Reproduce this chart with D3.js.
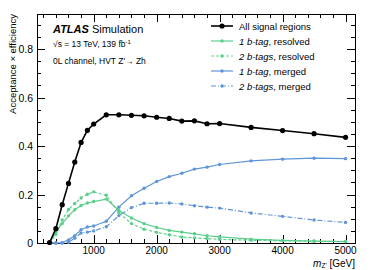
<!DOCTYPE html>
<html>
<head>
<meta charset="utf-8">
<script src="https://cdn.jsdelivr.net/npm/d3@7"></script>
<style>
body { margin: 0; background: #fff; }
svg text { font-family: "Liberation Sans", Arial, sans-serif; fill: #000; }
path.line { fill: none; }
</style>
</head>
<body>
<div id="chart"></div>
<script>
// Z' mass points [GeV]
var mass = [300, 400, 500, 600, 700, 800, 900, 1000, 1200, 1400, 1600, 1800, 2000, 2200, 2400, 2600, 2800, 3000, 3500, 4000, 4500, 5000];

var allSR = [0.002, 0.059, 0.158, 0.246, 0.334, 0.415, 0.465, 0.491, 0.529, 0.529, 0.527, 0.525, 0.519, 0.514, 0.503, 0.504, 0.492, 0.493, 0.477, 0.464, 0.451, 0.436];
var res1b = [0.0, 0.045, 0.08, 0.112, 0.137, 0.155, 0.165, 0.171, 0.181, 0.134, 0.103, 0.08, 0.064, 0.052, 0.045, 0.038, 0.030, 0.025, 0.016, 0.011, 0.008, 0.006];
var res2b = [0.0, 0.035, 0.095, 0.138, 0.163, 0.186, 0.201, 0.211, 0.197, 0.125, 0.08, 0.057, 0.044, 0.034, 0.025, 0.021, 0.018, 0.015, 0.011, 0.009, 0.007, 0.006];
var mer1b = [0.0, 0.0, 0.001, 0.013, 0.03, 0.055, 0.066, 0.07, 0.09, 0.148, 0.195, 0.226, 0.254, 0.274, 0.288, 0.305, 0.313, 0.324, 0.339, 0.346, 0.35, 0.348];
var mer2b = [0.0, 0.0, 0.0, 0.003, 0.02, 0.041, 0.045, 0.05, 0.067, 0.113, 0.146, 0.164, 0.164, 0.165, 0.161, 0.154, 0.148, 0.144, 0.124, 0.11, 0.095, 0.085];

var xTicks = [1000, 2000, 3000, 4000, 5000];
var yTicks = [0, 0.2, 0.4, 0.6, 0.8];

var W = 374, H = 270;
var margin = {top: 14, right: 19, bottom: 27, left: 37};
var width = W - margin.left - margin.right,
    height = H - margin.top - margin.bottom;

var green = "#5ccf8c", blue = "#5e95d8";

var series = [
  {name: "all", values: allSR, color: "#000", width: 1.6, dash: null, r: 2.6},
  {name: "r1", values: res1b, color: green, width: 1.2, dash: null, r: 1.7},
  {name: "r2", values: res2b, color: green, width: 1.2, dash: "3,2", r: 1.7},
  {name: "m1", values: mer1b, color: blue, width: 1.2, dash: null, r: 1.7},
  {name: "m2", values: mer2b, color: blue, width: 1.2, dash: "5,2,1,2", r: 1.7}
];

var svg = d3.select("#chart").append("svg")
  .attr("width", W).attr("height", H);
var g = svg.append("g")
  .attr("transform", "translate(" + margin.left + "," + margin.top + ")");

var x = d3.scaleLinear().domain([100, 5150]).range([0, width]);
var y = d3.scaleLinear().domain([0, 0.945]).range([height, 0]);

// minor ticks
var xMinor = d3.range(200, 5150, 200);
var yMinor = d3.range(0, 0.945, 0.05);

function ticks(sel, vals, fn, len) {
  vals.forEach(function(v) { fn(sel, v, len); });
}

var tg = g.append("g").attr("stroke", "#000").attr("stroke-width", 1);
function xt(sel, v, len) {
  var px = Math.round(x(v)) + 0.5;
  sel.append("line").attr("x1", px).attr("x2", px).attr("y1", height).attr("y2", height - len);
  sel.append("line").attr("x1", px).attr("x2", px).attr("y1", 0).attr("y2", len);
}
function yt(sel, v, len) {
  var py = Math.round(y(v)) + 0.5;
  sel.append("line").attr("y1", py).attr("y2", py).attr("x1", 0).attr("x2", len);
  sel.append("line").attr("y1", py).attr("y2", py).attr("x1", width).attr("x2", width - len);
}
ticks(tg, xMinor, xt, 4);
ticks(tg, xTicks, xt, 8);
ticks(tg, yMinor, yt, 4);
ticks(tg, yTicks, yt, 8);

// frame
g.append("rect").attr("x", 0.5).attr("y", 0.5).attr("width", width).attr("height", height)
  .attr("fill", "none").attr("stroke", "#000").attr("stroke-width", 1);

// tick labels
g.selectAll("text.xl").data(xTicks).enter().append("text")
  .attr("x", function(d) { return x(d); }).attr("y", height + 11)
  .attr("text-anchor", "middle").style("font-size", "10px").text(function(d) { return d; });
g.selectAll("text.yl").data(yTicks).enter().append("text")
  .attr("x", -4).attr("y", function(d) { return y(d) + 4; })
  .attr("text-anchor", "end").style("font-size", "10.5px").text(function(d) { return d === 0 ? "0" : d3.format(".1f")(d); });

// axis titles
svg.append("text")
  .attr("transform", "translate(16," + margin.top + ") rotate(-90)")
  .attr("text-anchor", "end").style("font-size", "9.5px")
  .text("Acceptance \u00d7 efficiency");
var xl = svg.append("text").attr("x", margin.left + width).attr("y", H - 3.5)
  .attr("text-anchor", "end").style("font-size", "10px");
xl.append("tspan").style("font-style", "italic").text("m");
xl.append("tspan").attr("dy", 1).style("font-size", "6.5px").text("Z'");
xl.append("tspan").attr("dy", -1).text(" [GeV]");

// lines
var line = d3.line().x(function(d, i) { return x(mass[i]); }).y(function(d) { return y(d); });
series.slice().reverse().forEach(function(s) {
  g.append("path").attr("class", "line").datum(s.values).attr("d", line)
    .attr("stroke", s.color).attr("stroke-width", s.width)
    .attr("stroke-dasharray", s.dash);
  g.selectAll(null).data(s.values).enter().append("circle")
    .attr("cx", function(d, i) { return x(mass[i]); })
    .attr("cy", function(d) { return y(d); })
    .attr("r", s.r).attr("fill", s.color);
});

// ATLAS labels
var t1 = svg.append("text").attr("x", 53).attr("y", 33).style("font-size", "11px");
t1.append("tspan").style("font-weight", "bold").style("font-style", "italic").text("ATLAS");
t1.append("tspan").text(" Simulation");
var t2 = svg.append("text").attr("x", 53).attr("y", 47).style("font-size", "8.5px");
t2.append("tspan").text("\u221as = 13 TeV, 139 fb");
t2.append("tspan").attr("dy", -3).style("font-size", "6px").text("-1");
svg.append("text").attr("x", 53).attr("y", 64).style("font-size", "8.5px")
  .text("0L channel, HVT Z'\u2192 Zh");

// legend
var legendLabels = [
  [{t: "All signal regions"}],
  [{t: "1 b-tag", i: true}, {t: ", resolved"}],
  [{t: "2 b-tags", i: true}, {t: ", resolved"}],
  [{t: "1 b-tag", i: true}, {t: ", merged"}],
  [{t: "2 b-tags", i: true}, {t: ", merged"}]
];
var lg = svg.append("g");
series.forEach(function(s, k) {
  var ly = 26 + k * 15;
  lg.append("line").attr("x1", 211).attr("x2", 233).attr("y1", ly).attr("y2", ly)
    .attr("stroke", s.color).attr("stroke-width", s.width).attr("stroke-dasharray", s.dash);
  lg.append("circle").attr("cx", 222).attr("cy", ly).attr("r", s.r).attr("fill", s.color);
  var tx = lg.append("text").attr("x", 239).attr("y", ly + 3.5).style("font-size", "9.5px");
  legendLabels[k].forEach(function(p) {
    tx.append("tspan").style("font-style", p.i ? "italic" : "normal").text(p.t);
  });
});
</script>
</body>
</html>
